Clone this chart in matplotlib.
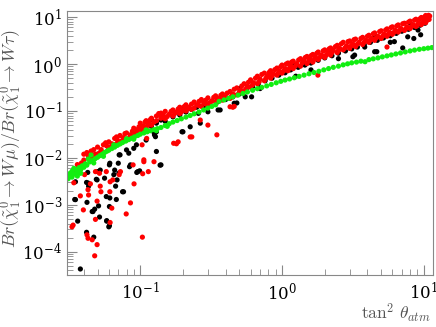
import numpy as np
import matplotlib
matplotlib.use("Agg")
import matplotlib.pyplot as plt
from matplotlib.ticker import LogLocator, NullFormatter

plt.rcParams['mathtext.fontset'] = 'cm'
plt.rcParams['font.family'] = 'serif'
plt.rcParams['font.serif'] = ['DejaVu Serif']

# --- datos: (tan^2 theta_atm, cociente de Br) ---
green_pts = [
    (0.031, 0.0036), (0.031, 0.0042), (0.032, 0.0047), (0.033, 0.0039), (0.033, 0.0052),
    (0.034, 0.0045), (0.034, 0.0060), (0.035, 0.0057), (0.036, 0.0050), (0.036, 0.0041),
    (0.037, 0.0062), (0.038, 0.0056), (0.038, 0.0047), (0.039, 0.0068), (0.040, 0.0063),
    (0.041, 0.0075), (0.042, 0.0070), (0.043, 0.0095), (0.044, 0.0082), (0.045, 0.0115),
    (0.046, 0.0088), (0.047, 0.0078), (0.048, 0.0096), (0.050, 0.0103), (0.052, 0.0112),
    (0.054, 0.0120), (0.055, 0.0108), (0.056, 0.0130), (0.058, 0.0138), (0.060, 0.0146),
    (0.063, 0.0158), (0.065, 0.0190), (0.066, 0.0170), (0.069, 0.0185), (0.072, 0.0198),
    (0.075, 0.0212), (0.079, 0.0228), (0.080, 0.0255), (0.083, 0.0245), (0.087, 0.0262),
    (0.090, 0.0250), (0.091, 0.0280), (0.096, 0.0300), (0.100, 0.0320), (0.106, 0.0340),
    (0.110, 0.0395), (0.112, 0.0360), (0.118, 0.0380), (0.125, 0.0400), (0.130, 0.0380),
    (0.132, 0.0420), (0.140, 0.0445), (0.150, 0.0490), (0.155, 0.0470), (0.160, 0.0535),
    (0.170, 0.0580), (0.182, 0.0625), (0.195, 0.0680), (0.210, 0.0740), (0.225, 0.0800),
    (0.240, 0.0870), (0.260, 0.0950), (0.280, 0.1050), (0.300, 0.1150), (0.320, 0.1250),
    (0.340, 0.1350), (0.360, 0.1600), (0.390, 0.1720), (0.420, 0.1860), (0.450, 0.2000),
    (0.490, 0.2180), (0.530, 0.2360), (0.570, 0.2540), (0.620, 0.2760), (0.670, 0.2980),
    (0.720, 0.3180), (0.780, 0.3420), (0.840, 0.3680), (0.910, 0.3980), (0.980, 0.4280),
    (1.05, 0.456), (1.13, 0.48), (1.22, 0.51), (1.32, 0.545), (1.43, 0.58),
    (1.55, 0.62), (1.68, 0.66), (1.82, 0.70), (1.97, 0.75), (2.13, 0.80),
    (2.30, 0.85), (2.50, 0.90), (2.70, 0.96), (2.90, 1.01), (3.10, 1.06),
    (3.35, 1.10), (3.60, 1.15), (3.85, 1.12), (4.10, 1.24), (4.40, 1.29),
    (4.75, 1.35), (5.10, 1.42), (5.50, 1.49), (5.90, 1.56), (6.35, 1.64),
    (6.85, 1.72), (7.40, 1.81), (8.00, 1.90), (8.60, 1.98), (9.30, 2.06),
    (10.0, 2.12), (10.7, 2.18), (11.4, 2.24),
]

red_pts = [
    # banda principal
    (0.040, 0.012), (0.040, 0.009), (0.043, 0.011), (0.045, 0.014), (0.045, 0.010),
    (0.048, 0.012), (0.050, 0.017), (0.050, 0.012), (0.053, 0.015), (0.055, 0.019),
    (0.055, 0.013), (0.058, 0.018), (0.060, 0.022), (0.060, 0.016), (0.063, 0.020),
    (0.066, 0.026), (0.066, 0.019), (0.069, 0.024), (0.072, 0.030), (0.072, 0.021),
    (0.076, 0.027), (0.080, 0.034), (0.080, 0.024), (0.085, 0.031), (0.090, 0.043),
    (0.090, 0.030), (0.095, 0.040), (0.100, 0.055), (0.100, 0.037), (0.105, 0.048),
    (0.110, 0.062), (0.110, 0.045), (0.115, 0.056), (0.120, 0.070), (0.120, 0.050),
    (0.130, 0.078), (0.130, 0.062), (0.135, 0.088), (0.140, 0.070), (0.150, 0.098),
    (0.150, 0.068), (0.160, 0.085), (0.170, 0.105), (0.170, 0.078), (0.180, 0.095),
    (0.190, 0.120), (0.190, 0.088), (0.200, 0.105), (0.210, 0.135), (0.210, 0.100),
    (0.220, 0.120), (0.240, 0.155), (0.240, 0.115), (0.250, 0.135), (0.270, 0.175),
    (0.270, 0.125), (0.280, 0.150), (0.300, 0.190), (0.300, 0.135), (0.320, 0.165),
    (0.340, 0.210), (0.340, 0.155), (0.360, 0.185), (0.380, 0.230), (0.380, 0.170),
    (0.400, 0.200), (0.430, 0.260), (0.430, 0.185), (0.450, 0.230), (0.480, 0.310),
    (0.480, 0.220), (0.510, 0.280), (0.540, 0.380), (0.540, 0.270), (0.570, 0.340),
    (0.600, 0.460), (0.600, 0.320), (0.630, 0.400), (0.670, 0.550), (0.670, 0.380),
    (0.700, 0.480), (0.750, 0.640), (0.750, 0.440), (0.790, 0.560), (0.830, 0.720),
    (0.830, 0.500), (0.870, 0.620), (0.920, 0.820), (0.920, 0.580), (0.960, 0.700),
    (1.00, 0.95), (1.00, 0.64), (1.05, 0.80), (1.10, 1.05), (1.10, 0.72),
    (1.15, 0.92), (1.20, 1.15), (1.20, 0.80), (1.27, 1.02), (1.35, 1.30),
    (1.35, 0.90), (1.42, 1.15), (1.50, 1.45), (1.50, 1.02), (1.57, 1.28),
    (1.65, 1.60), (1.65, 1.10), (1.72, 1.40), (1.80, 1.80), (1.80, 1.25),
    (1.90, 1.55), (2.00, 2.00), (2.00, 1.38), (2.10, 1.75), (2.20, 2.20),
    (2.20, 1.55), (2.30, 1.95), (2.45, 2.50), (2.45, 1.75), (2.55, 2.15),
    (2.70, 2.90), (2.70, 2.00), (2.85, 2.45), (3.00, 3.10), (3.00, 2.15),
    (3.15, 2.70), (3.30, 3.40), (3.30, 2.35), (3.50, 2.90), (3.70, 3.70),
    (3.70, 2.60), (3.90, 3.20), (4.10, 4.10), (4.10, 2.90), (4.30, 3.50),
    (4.50, 4.60), (4.50, 3.20), (4.75, 3.90), (5.00, 5.10), (5.00, 3.50),
    (5.25, 4.30), (5.50, 5.60), (5.50, 3.90), (5.75, 4.70), (6.00, 6.20),
    (6.00, 4.30), (6.30, 5.20), (6.60, 6.80), (6.60, 4.80), (6.90, 5.70),
    (7.30, 7.40), (7.30, 5.20), (7.60, 6.20), (8.00, 8.20), (8.00, 5.70),
    (8.40, 6.90), (8.80, 9.00), (8.80, 6.30), (9.20, 7.60), (9.60, 9.80),
    (9.60, 6.90), (10.0, 8.40), (10.3, 10.8), (10.3, 7.60), (10.6, 9.40),
    (11.0, 10.5),
    (0.042, 0.013), (0.047, 0.015), (0.047, 0.011), (0.052, 0.013), (0.057, 0.021),
    (0.062, 0.017), (0.068, 0.028), (0.068, 0.020), (0.074, 0.023), (0.078, 0.033),
    (0.083, 0.026), (0.088, 0.037), (0.093, 0.034), (0.098, 0.046), (0.103, 0.041),
    (0.108, 0.058), (0.113, 0.050), (0.118, 0.066), (0.125, 0.058), (0.140, 0.090),
    (0.140, 0.075), (0.145, 0.082), (0.155, 0.076), (0.165, 0.098), (0.175, 0.088),
    (0.185, 0.110), (0.195, 0.095), (0.205, 0.125), (0.215, 0.110), (0.230, 0.140),
    (0.230, 0.108), (0.260, 0.160), (0.260, 0.130), (0.290, 0.170), (0.290, 0.140),
    (0.310, 0.150), (0.330, 0.195), (0.350, 0.170), (0.370, 0.215), (0.390, 0.185),
    (0.410, 0.240), (0.440, 0.205), (0.460, 0.290), (0.500, 0.250), (0.520, 0.340),
    (0.560, 0.300), (0.580, 0.410), (0.620, 0.360), (0.650, 0.500), (0.690, 0.420),
    (0.720, 0.600), (0.770, 0.500), (0.810, 0.660), (0.850, 0.560), (0.890, 0.760),
    (0.940, 0.640), (0.980, 0.880), (1.03, 0.72), (1.07, 1.00), (1.13, 0.82),
    (1.17, 1.10), (1.24, 0.90), (1.31, 1.22), (1.39, 1.05), (1.46, 1.38),
    (1.54, 1.15), (1.61, 1.52), (1.69, 1.25), (1.76, 1.70), (1.85, 1.40),
    (1.95, 1.90), (2.05, 1.55), (2.15, 2.10), (2.25, 1.75), (2.38, 2.35),
    (2.50, 1.95), (2.62, 2.70), (2.78, 2.20), (2.92, 3.00), (3.08, 2.45),
    (3.22, 3.30), (3.40, 2.65), (3.60, 3.50), (3.80, 2.90), (4.00, 3.90),
    (4.20, 3.25), (4.40, 4.40), (4.62, 3.60), (4.88, 4.90), (5.12, 3.90),
    (5.38, 5.30), (5.62, 4.30), (5.88, 6.00), (6.15, 4.70), (6.45, 6.50),
    (6.75, 5.20), (7.10, 7.20), (7.45, 5.60), (7.80, 7.80), (8.20, 6.30),
    (8.60, 8.60), (9.00, 6.80), (9.40, 9.20), (9.80, 7.40), (10.1, 10.0),
    (10.45, 8.30), (10.8, 10.9), (10.9, 8.90),
    (0.036, 0.0072), (0.038, 0.0060), (0.0385, 0.0078), (0.034, 0.0055),
    # puntos dispersos
    (0.0477, 8.2e-5), (0.0496, 1.42e-4), (0.0428, 1.94e-4), (0.0421, 2.3e-4), (0.0458, 1.8e-4),
    (0.1035, 2.05e-4), (0.0336, 3.7e-4), (0.033, 3.4e-4), (0.0378, 1.55e-3), (0.0397, 7.8e-4),
    (0.0432, 1.62e-3), (0.0496, 1.2e-3), (0.0483, 4.9e-4), (0.0613, 4.2e-4), (0.063, 8.5e-4),
    (0.0528, 1.9e-3), (0.0853, 1.1e-3), (0.0796, 6.4e-4), (0.0904, 2.8e-3), (0.0725, 5.1e-3),
    (0.0613, 3.1e-3), (0.0522, 2.5e-3), (0.0576, 5.1e-3), (0.0445, 2.8e-3), (0.0405, 4.4e-3),
    (0.0483, 5.1e-3), (0.034, 2.95e-3), (0.104, 4.6e-3), (0.089, 7.1e-3), (0.114, 5.1e-3),
    (0.125, 8.3e-3), (0.106, 9.1e-3), (0.172, 0.0205), (0.180, 0.020), (0.231, 0.028),
    (0.265, 0.064), (0.347, 0.031), (0.185, 0.022), (0.225, 0.028), (0.300, 0.050),
    (0.430, 0.123), (0.103, 0.019), (0.111, 0.026), (1.79, 0.58), (5.5, 2.3),
    (0.064, 3.4e-3), (0.061, 1.9e-3), (0.0516, 4.7e-3), (0.071, 4.4e-3), (0.0428, 2.1e-3),
    (0.106, 8.3e-3), (0.45, 0.12), (0.46, 0.125),
]

black_pts = [
    # banda principal (parte baja)
    (0.050, 0.012), (0.060, 0.015), (0.070, 0.020), (0.080, 0.025), (0.090, 0.028),
    (0.100, 0.036), (0.110, 0.040), (0.120, 0.047), (0.120, 0.065), (0.130, 0.055),
    (0.140, 0.064), (0.150, 0.060), (0.170, 0.075), (0.190, 0.082), (0.200, 0.115),
    (0.210, 0.095), (0.230, 0.108), (0.250, 0.120), (0.280, 0.128), (0.310, 0.140),
    (0.350, 0.155), (0.400, 0.175), (0.450, 0.200), (0.500, 0.230), (0.500, 0.300),
    (0.560, 0.280), (0.620, 0.330), (0.680, 0.380), (0.760, 0.440), (0.850, 0.500),
    (0.950, 0.580), (1.05, 0.65), (1.15, 0.75), (1.20, 0.95), (1.30, 0.85),
    (1.45, 0.95), (1.60, 1.05), (1.80, 1.20), (2.00, 1.35), (2.20, 1.90),
    (2.25, 1.50), (2.50, 1.70), (2.80, 1.90), (3.10, 2.10), (3.40, 2.30),
    (3.80, 2.60), (4.20, 2.90), (4.50, 4.00), (4.70, 3.20), (5.20, 3.60),
    (5.80, 4.00), (6.40, 4.50), (7.00, 5.00), (7.80, 5.50), (8.00, 7.50),
    (8.60, 6.00), (9.40, 6.70), (10.2, 7.40),
    # debajo de la banda
    (3.16, 1.43), (4.66, 1.83), (7.10, 2.20), (5.80, 2.90), (8.50, 3.50),
    (9.50, 4.20), (2.50, 1.30), (1.60, 0.75), (1.25, 0.55), (0.70, 0.30),
    (0.55, 0.20), (3.83, 2.30), (4.50, 1.83), (6.20, 3.00), (7.70, 3.80),
    (9.10, 5.30), (3.25, 1.55), (0.61, 0.20), (0.354, 0.105), (0.46, 0.146),
    # dispersos a la izquierda
    (0.0378, 4.3e-5), (0.0418, 2.6e-4), (0.047, 2.05e-4), (0.0362, 4.5e-4), (0.0349, 1.29e-3),
    (0.0421, 1.13e-3), (0.0458, 7.2e-4), (0.0477, 8.1e-4), (0.0508, 9.5e-4), (0.0516, 5.5e-4),
    (0.058, 4.5e-4), (0.0606, 3.6e-4), (0.0606, 9.2e-4), (0.0576, 1.5e-3), (0.0678, 1.3e-3),
    (0.0762, 1.9e-3), (0.0706, 4.7e-3), (0.0686, 3.4e-3), (0.0651, 4.4e-3), (0.067, 2.5e-3),
    (0.0496, 3.4e-3), (0.0522, 5.5e-3), (0.0432, 2.5e-3), (0.0418, 3.0e-3), (0.0426, 4.9e-3),
    (0.0349, 3.1e-3), (0.0945, 4.9e-3), (0.099, 5.3e-3), (0.0853, 7.1e-3), (0.140, 7.1e-3),
    (0.0606, 7.1e-3), (0.128, 0.0283), (0.125, 0.035), (0.130, 0.036), (0.197, 0.036),
    (0.225, 0.046), (0.257, 0.089), (0.300, 0.096), (0.072, 0.0116), (0.083, 0.0126),
    (0.090, 0.016), (0.100, 0.036), (0.200, 0.036), (0.265, 0.055), (0.366, 0.105),
    (0.480, 0.148), (0.138, 0.007), (0.049, 3.5e-3), (0.056, 3.7e-3), (0.066, 5.5e-3),
    (0.070, 7.7e-3), (0.084, 6.5e-3), (0.075, 1.9e-3), (0.061, 1.4e-3), (0.058, 4.6e-4),
    (0.060, 3.4e-4), (0.0464, 7.2e-4), (0.094, 0.019), (0.110, 0.024), (0.126, 0.031),
    (0.130, 0.0137), (0.096, 5.1e-3), (0.071, 0.0116), (0.080, 0.0148), (0.061, 7.7e-3),
    (0.050, 5.1e-3), (0.043, 2.9e-3), (0.0345, 1.3e-3),
]

fig = plt.figure(figsize=(4.36, 3.27), dpi=100)
ax = fig.add_axes([0.154, 0.159, 0.839, 0.807])

for pts, col in [(black_pts, 'black'), (red_pts, 'red'), (green_pts, '#11ee11')]:
    arr = np.array(pts)
    ax.scatter(arr[:, 0], arr[:, 1], s=14, color=col, edgecolors='none', zorder=2)

ax.set_xscale('log')
ax.set_yscale('log')
ax.set_xlim(0.0305, 11.6)
ax.set_ylim(3.2e-5, 13.4)

for sp in ax.spines.values():
    sp.set_color('#888888')
ax.tick_params(which='both', direction='in', color='#888888', top=False, right=False,
               labelsize=12)
ax.tick_params(which='major', length=7)
ax.tick_params(which='minor', length=4)
ax.tick_params(axis='y', which='major', pad=3.5)
ax.tick_params(axis='x', which='major', pad=5)
ax.xaxis.set_minor_locator(LogLocator(base=10, subs=np.arange(2, 10), numticks=20))
ax.yaxis.set_minor_locator(LogLocator(base=10, subs=np.arange(2, 10), numticks=20))
ax.xaxis.set_minor_formatter(NullFormatter())
ax.yaxis.set_minor_formatter(NullFormatter())

ax.set_ylabel(r'$Br(\tilde{\chi}_1^0\rightarrow W\mu)/Br(\tilde{\chi}_1^0\rightarrow W\tau)$',
              fontsize=12.8, color='#555555')
ax.yaxis.set_label_coords(-0.117, 0.515)
ax.set_xlabel(r'$\tan^2\,\theta_{atm}$', fontsize=12.5, color='#555555', loc='right')
ax.xaxis.set_label_coords(0.992, -0.1)

plt.savefig('out.png', dpi=100)
